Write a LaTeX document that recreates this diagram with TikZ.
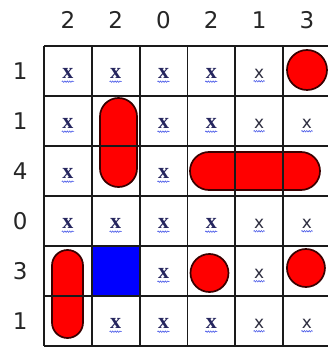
\documentclass[tikz,border=0pt]{standalone}
\usepackage{fontspec}
\setmainfont{DejaVu Sans}
\newfontfamily\markfont{Liberation Serif}
\usetikzlibrary{positioning, decorations.pathmorphing}
\definecolor{gridink}{HTML}{1A1A1A}
\definecolor{shipred}{HTML}{FF0000}
\definecolor{shipedge}{HTML}{3A0000}
\definecolor{waterblue}{HTML}{0000FF}
\definecolor{markink}{HTML}{26265E}
\definecolor{markdark}{HTML}{2E2E40}
\definecolor{squigblue}{HTML}{4A5AE8}

\tikzset{
  clue/.style={font=\fontsize{23}{25}\selectfont, text=black!85},
  xmark/.style={font=\markfont\bfseries\fontsize{22}{23}\selectfont, text=markink, inner sep=0.4pt},
  xmarksans/.style={font=\fontsize{17}{18}\selectfont, text=markdark, inner sep=0.4pt},
  squig/.style={draw=squigblue, line width=0.6pt, decorate,
                decoration={snake, amplitude=0.7pt, segment length=2.4pt}},
  ship/.style={draw=shipedge, fill=shipred, line width=1.7pt},
  water/.style={fill=waterblue},
  gridline/.style={draw=gridink, line width=1.8pt}
}

\begin{document}
\begin{tikzpicture}[x=47.8pt, y=-50pt]
  \useasboundingbox (-0.9205,-0.92) rectangle (5.9414,6.12);
  \clip (-0.9205,-0.92) rectangle (5.9414,6.12);
  \fill[white] (-0.9205,-0.92) rectangle (5.9414,6.12);

  % clues
  \foreach \n [count=\c] in {2,2,0,2,1,3}
    \node[clue] (col\c) at (\c-0.5,-0.52) {\n};
  \foreach \n [count=\r] in {1,1,4,0,3,1}
    \node[clue] (row\r) at (-0.5,\r-0.5) {\n};

  % water marks
  \foreach \r/\c in {1/1,1/2,1/3,1/4,2/1,2/3,2/4,3/1,3/3,4/1,4/2,4/3,4/4,5/3,6/2,6/3,6/4} {
    \node[xmark] (m\r\c) at (\c-0.5,\r-0.45) {x};
    \draw[squig] ([yshift=-2.5pt]m\r\c.south west) -- ([yshift=-2.5pt]m\r\c.south east);
  }
  \foreach \r/\c in {1/5,2/5,2/6,4/5,4/6,5/5,6/5,6/6} {
    \node[xmarksans] (m\r\c) at (\c-0.5,\r-0.45) {x};
    \draw[squig] ([yshift=-2.5pt]m\r\c.south west) -- ([yshift=-2.5pt]m\r\c.south east);
  }

  % ships
  \node[ship, circle, minimum size=40pt, inner sep=0pt] (sub1) at (5.502,0.48) {};
  \node[ship, circle, minimum size=38pt, inner sep=0pt] (sub2) at (3.462,4.54) {};
  \node[ship, circle, minimum size=38pt, inner sep=0pt] (sub3) at (5.48,4.44) {};
  \draw[ship, rounded corners=18.5pt] (1.1715,1.04) rectangle (1.9456,2.82);
  \draw[ship, rounded corners=15.5pt] (0.167,4.08) rectangle (0.816,5.84);
  \draw[ship, rounded corners=19pt] (3.054,2.12) rectangle (5.774,2.88);
  \fill[water] (1,4) rectangle (2,5);

  % grid
  \foreach \i in {0,...,6} {
    \draw[gridline] (\i,0) -- (\i,6);
    \draw[gridline] (0,\i) -- (6,\i);
  }
\end{tikzpicture}
\end{document}
